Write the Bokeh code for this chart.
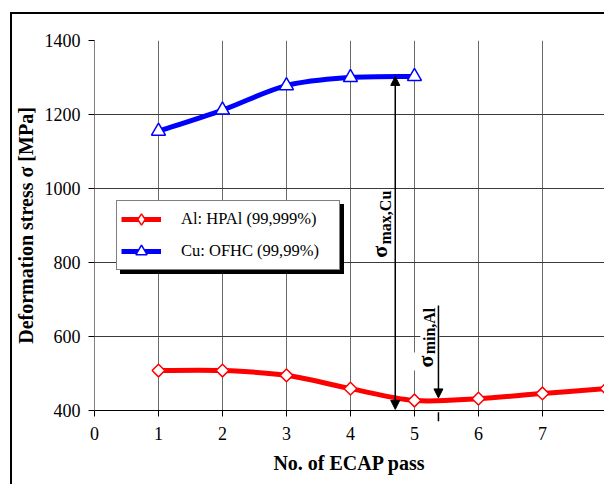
import math
from bokeh.plotting import figure
from bokeh.models import (Range1d, FixedTicker, Legend, LegendItem, Label, Arrow,
                          NormalHead, TeeHead, ColumnDataSource)
from bokeh.embed import file_html
from bokeh.resources import INLINE

# ---------------- data ----------------
passes_al = [1, 2, 3, 4, 5, 6, 7, 8]
stress_al = [508, 508, 495, 459, 427, 432, 446, 459]
passes_cu = [1, 2, 3, 4, 5]
stress_cu = [1155, 1212, 1278, 1300, 1303]
x_ticks = [0, 1, 2, 3, 4, 5, 6, 7, 8]
y_ticks = [400, 600, 800, 1000, 1200, 1400]
label_al = "Al: HPAl (99,999%)"
label_cu = "Cu: OFHC (99,99%)"
x_title = "No. of ECAP pass"
y_title = "Deformation stress σ [MPa]"

# annotation positions (pass number / MPa)
sig_max_x = 4.70
sig_min_x = 5.375

FONT = "Liberation Serif"
RED = "#ff0000"
BLUE = "#0000ff"
X_END = 7.97


def bezier_segments(xs, ys):
    """Smoothed-line rendering (Catmull-Rom style control points) through the data points."""
    n = len(xs)
    d = dict(x0=[], y0=[], x1=[], y1=[], cx0=[], cy0=[], cx1=[], cy1=[])
    for i in range(n - 1):
        a = max(i - 1, 0)
        b = min(i + 2, n - 1)
        d["x0"].append(xs[i]); d["y0"].append(ys[i])
        d["x1"].append(xs[i + 1]); d["y1"].append(ys[i + 1])
        d["cx0"].append(xs[i] + (xs[i + 1] - xs[a]) / 6)
        d["cy0"].append(ys[i] + (ys[i + 1] - ys[a]) / 6)
        d["cx1"].append(xs[i + 1] - (xs[b] - xs[i]) / 6)
        d["cy1"].append(ys[i + 1] - (ys[b] - ys[i]) / 6)
    return ColumnDataSource(d)


p = figure(width=604, height=484, output_backend="svg", toolbar_location=None,
           x_range=Range1d(0, X_END), y_range=Range1d(400, 1400),
           min_border_left=94, min_border_right=0, min_border_top=40, min_border_bottom=74)
p.outline_line_color = None
p.background_fill_color = "white"
p.border_fill_color = None
# thin black frame round the whole chart (left and top edges visible in the window)
p.styles = {
    "background": ("linear-gradient(#000, #000) 10px 12px / 2px 1000px no-repeat, "
                   "linear-gradient(#000, #000) 10px 12px / 1000px 2px no-repeat, #ffffff"),
}

# axes
p.xaxis.ticker = FixedTicker(ticks=x_ticks)
p.yaxis.ticker = FixedTicker(ticks=y_ticks)
p.xaxis.axis_label = x_title
p.yaxis.axis_label = y_title
for ax in (p.xaxis[0], p.yaxis[0]):
    ax.major_label_text_font = FONT
    ax.major_label_text_font_size = "18px"
    ax.major_label_text_color = "black"
    ax.axis_label_text_font = FONT
    ax.axis_label_text_font_style = "bold"
    ax.axis_label_text_font_size = "20px"
    ax.axis_label_text_color = "black"
    ax.major_tick_out = 6
    ax.major_tick_in = 0
    ax.minor_tick_out = 0
    ax.minor_tick_in = 0
    ax.major_tick_line_color = "black"
p.xaxis.axis_label_standoff = 9
p.yaxis.axis_label_standoff = 5
p.xaxis.axis_line_color = "black"
p.yaxis.axis_line_color = "#808080"
p.xaxis.major_label_standoff = 10
p.yaxis.major_label_standoff = 8

p.xgrid.ticker = FixedTicker(ticks=x_ticks)
p.ygrid.ticker = FixedTicker(ticks=y_ticks)
p.xgrid.grid_line_color = "#6a6a6a"
p.ygrid.grid_line_color = "#3a3a3a"
p.xgrid.grid_line_width = 1
p.ygrid.grid_line_width = 1

# series (smoothed lines + markers)
p.bezier(x0="x0", y0="y0", x1="x1", y1="y1", cx0="cx0", cy0="cy0", cx1="cx1", cy1="cy1",
         source=bezier_segments(passes_cu, stress_cu), line_color=BLUE, line_width=5,
         line_cap="round")
p.bezier(x0="x0", y0="y0", x1="x1", y1="y1", cx0="cx0", cy0="cy0", cx1="cx1", cy1="cy1",
         source=bezier_segments(passes_al, stress_al), line_color=RED, line_width=5,
         line_cap="round")
p.scatter(passes_cu, stress_cu, marker="triangle", size=14, fill_color="white",
          line_color=BLUE, line_width=1.5)
p.scatter(passes_al, stress_al, marker="square", angle=math.pi / 4, size=9,
          fill_color="white", line_color=RED, line_width=1.5)

# legend proxies (hidden renderers, only used to draw the legend glyphs)
al_leg_line = p.line(passes_al, stress_al, line_color=RED, line_width=5, visible=False)
al_leg_mark = p.scatter(passes_al, stress_al, marker="diamond", size=14, fill_color="white",
                        line_color=RED, line_width=1.5, visible=False)
cu_leg_line = p.line(passes_cu, stress_cu, line_color=BLUE, line_width=5, visible=False)
cu_leg_mark = p.scatter(passes_cu, stress_cu, marker="triangle", size=14, fill_color="white",
                        line_color=BLUE, line_width=1.5, visible=False)
shadow_dummy = p.scatter(passes_al, stress_al, alpha=0, visible=False)

common = dict(padding=4, spacing=4, glyph_width=40, glyph_height=28, label_height=28,
              label_width=154, label_standoff=20, margin=0,
              label_text_font=FONT, label_text_font_size="16.5px",
              border_line_width=1.5)

shadow = Legend(items=[LegendItem(label=" ", renderers=[shadow_dummy]),
                       LegendItem(label=" ", renderers=[shadow_dummy])],
                location=(26, 136), background_fill_color="black", background_fill_alpha=1,
                border_line_color="black", label_text_color="black", **common)
main = Legend(items=[LegendItem(label=label_al, renderers=[al_leg_line, al_leg_mark]),
                     LegendItem(label=label_cu, renderers=[cu_leg_line, cu_leg_mark])],
              location=(22, 140), background_fill_color="white", background_fill_alpha=1,
              border_line_color="black", label_text_color="black", **common)
p.add_layout(shadow, "center")
p.add_layout(main, "center")

# sigma labels (vertical, with subscript)
lab_kw = dict(angle=math.pi / 2, text_font=FONT, text_font_style="bold", text_color="black",
              text_align="left", text_baseline="alphabetic",
              background_fill_color="white", background_fill_alpha=1)
p.add_layout(Label(x=sig_max_x - 0.25, y=805, text="σ", text_font_size="22px", padding=3, **lab_kw))
p.add_layout(Label(x=sig_max_x - 0.16, y=846, text="max,Cu", text_font_size="16px", padding=1, **lab_kw))
p.add_layout(Label(x=sig_min_x - 0.20, y=508, text="σ", text_font_size="22px", padding=3, **lab_kw))
p.add_layout(Label(x=sig_min_x - 0.135, y=549, text="min,Al", text_font_size="16px", padding=1, **lab_kw))


# arrows
def head():
    return NormalHead(size=9, fill_color="black", line_color="black", line_width=1)


p.add_layout(Arrow(x_start=sig_max_x, y_start=403, x_end=sig_max_x, y_end=max(stress_cu),
                   start=head(), end=head(), line_width=1.5, line_color="black"))
p.add_layout(Arrow(x_start=sig_min_x, y_start=684, x_end=sig_min_x, y_end=434,
                   end=head(), line_width=1.5, line_color="black"))
# lower sigma_min arrow (below the axis): head pointing up at the axis ...
p.add_layout(Arrow(x_start=sig_min_x, y_start=315, x_end=sig_min_x, y_end=395,
                   end=head(), line_width=1.5, line_color="black"))
# ... and its shaft, drawn as a perpendicular tee of a horizontal arrow
p.add_layout(Arrow(x_start=sig_min_x - 0.5, y_start=351, x_end=sig_min_x, y_end=351,
                   end=TeeHead(size=28, line_width=1.5, line_color="black"),
                   line_alpha=0))

open("out.html", "w").write(file_html(p, INLINE))
